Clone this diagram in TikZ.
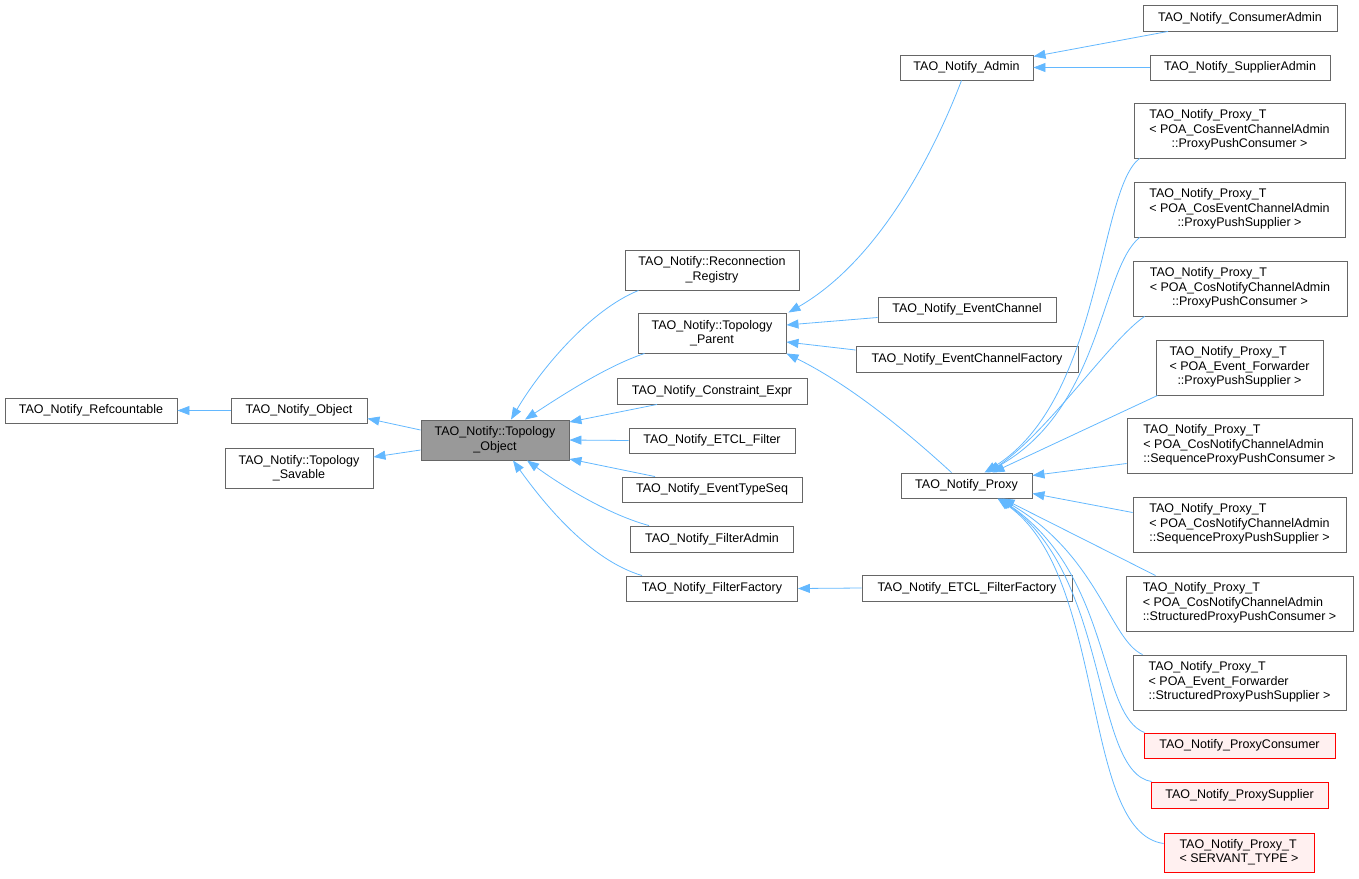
\documentclass[tikz,border=0pt]{standalone}
\usepackage{fontspec}
\setmainfont{Liberation Sans}
\usetikzlibrary{arrows.meta,calc}
\definecolor{edgeblue}{HTML}{63B8FF}
\definecolor{boxgray}{HTML}{666666}
\definecolor{tofill}{HTML}{999999}
\definecolor{redfill}{HTML}{FFF0F0}
\definecolor{redline}{HTML}{FF0000}
\newcommand\ptlab[3]{\begin{tabular}{@{}l@{}}#1\\#2\\\multicolumn{1}{@{}c@{}}{#3}\end{tabular}}
\newcommand\ptlabii[2]{\begin{tabular}{@{}l@{}}#1\\#2\end{tabular}}
\begin{document}
\begin{tikzpicture}[x=1pt,y=-1pt,
 box/.style={draw=boxgray, fill=white, line width=0.9pt, inner sep=0pt, align=center,
   font=\fontsize{12.5}{14.5}\selectfont},
 grayfill/.style={fill=tofill},
 redbox/.style={draw=redline, fill=redfill},
 edge/.style={draw=edgeblue, line width=0.8pt, -{Triangle[length=12pt,width=9pt]}}]
\useasboundingbox (0,0) rectangle (1359,878);

% left column
\node[box, minimum width=172pt, minimum height=25pt] (ref) at (91,410.5) {TAO\_Notify\_Refcountable};
\node[box, minimum width=136pt, minimum height=25pt] (obj) at (299,410.5) {TAO\_Notify\_Object};
\node[box, minimum width=148pt, minimum height=40pt] (sav) at (299,468) {TAO\_Notify::Topology\\\_Savable};
\node[box, grayfill, minimum width=148pt, minimum height=40pt] (to) at (495,440) {TAO\_Notify::Topology\\\_Object};

% middle column
\node[box, minimum width=174pt, minimum height=40pt] (rec) at (712,270) {TAO\_Notify::Reconnection\\\_Registry};
\node[box, minimum width=148pt, minimum height=40pt] (par) at (712,333) {TAO\_Notify::Topology\\\_Parent};
\node[box, minimum width=190pt, minimum height=26pt] (con) at (712,391) {TAO\_Notify\_Constraint\_Expr};
\node[box, minimum width=166pt, minimum height=25pt] (etf) at (712,440.5) {TAO\_Notify\_ETCL\_Filter};
\node[box, minimum width=180pt, minimum height=25pt] (ets) at (712,489.5) {TAO\_Notify\_EventTypeSeq};
\node[box, minimum width=163pt, minimum height=26pt] (fad) at (712,539) {TAO\_Notify\_FilterAdmin};
\node[box, minimum width=171pt, minimum height=25pt] (ffa) at (712,588.5) {TAO\_Notify\_FilterFactory};

% third column
\node[box, minimum width=133pt, minimum height=25pt] (adm) at (966.5,67.5) {TAO\_Notify\_Admin};
\node[box, minimum width=178pt, minimum height=25pt] (ech) at (967,309.5) {TAO\_Notify\_EventChannel};
\node[box, minimum width=222pt, minimum height=26pt] (ecf) at (967,359) {TAO\_Notify\_EventChannelFactory};
\node[box, minimum width=131pt, minimum height=25pt] (prx) at (966.5,485.5) {TAO\_Notify\_Proxy};
\node[box, minimum width=210pt, minimum height=26pt] (eff) at (967,588) {TAO\_Notify\_ETCL\_FilterFactory};

% right column
\node[box, minimum width=194pt, minimum height=26pt] (cad) at (1240,18) {TAO\_Notify\_ConsumerAdmin};
\node[box, minimum width=180pt, minimum height=25pt] (sad) at (1240,67.5) {TAO\_Notify\_SupplierAdmin};
\node[box, minimum width=211pt, minimum height=55pt] (p1) at (1239.5,130.5) {\ptlab{TAO\_Notify\_Proxy\_T}{< POA\_CosEventChannelAdmin}{::ProxyPushConsumer >}};
\node[box, minimum width=211pt, minimum height=55pt] (p2) at (1239.5,209.5) {\ptlab{TAO\_Notify\_Proxy\_T}{< POA\_CosEventChannelAdmin}{::ProxyPushSupplier >}};
\node[box, minimum width=214pt, minimum height=55pt] (p3) at (1240,288.5) {\ptlab{TAO\_Notify\_Proxy\_T}{< POA\_CosNotifyChannelAdmin}{::ProxyPushConsumer >}};
\node[box, minimum width=167pt, minimum height=55pt] (p4) at (1239.5,367.5) {\ptlab{TAO\_Notify\_Proxy\_T}{< POA\_Event\_Forwarder}{::ProxyPushSupplier >}};
\node[box, minimum width=225pt, minimum height=55pt] (p5) at (1239.5,445.5) {\ptlab{TAO\_Notify\_Proxy\_T}{< POA\_CosNotifyChannelAdmin}{::SequenceProxyPushConsumer >}};
\node[box, minimum width=213pt, minimum height=55pt] (p6) at (1239.5,524.5) {\ptlab{TAO\_Notify\_Proxy\_T}{< POA\_CosNotifyChannelAdmin}{::SequenceProxyPushSupplier >}};
\node[box, minimum width=227pt, minimum height=55pt] (p7) at (1239.5,603.5) {\ptlab{TAO\_Notify\_Proxy\_T}{< POA\_CosNotifyChannelAdmin}{::StructuredProxyPushConsumer >}};
\node[box, minimum width=213pt, minimum height=55pt] (p8) at (1239.5,682.5) {\ptlab{TAO\_Notify\_Proxy\_T}{< POA\_Event\_Forwarder}{::StructuredProxyPushSupplier >}};
\node[box, redbox, minimum width=191pt, minimum height=25pt] (pc) at (1239.5,745.5) {TAO\_Notify\_ProxyConsumer};
\node[box, redbox, minimum width=177pt, minimum height=26pt] (ps) at (1239.5,795) {TAO\_Notify\_ProxySupplier};
\node[box, redbox, minimum width=150pt, minimum height=39pt] (pst) at (1239,852.5) {\ptlabii{TAO\_Notify\_Proxy\_T}{< SERVANT\_TYPE >}};

% edges: child -> parent
\draw[edge] (obj.west) -- (ref.east);
\draw[edge] ($(to.west)+(0,-10)$) -- ($(obj.east)+(0,8)$);
\draw[edge] ($(to.west)+(0,10)$) -- ($(sav.east)+(0,-11)$);

\draw[edge] ($(rec.south west)+(14,0)$) .. controls (590,310) and (540,370) .. ($(to.north)+(16,0)$);
\draw[edge] ($(par.south west)+(7,0)$) .. controls (610,365) and (570,390) .. ($(to.north)+(30,0)$);
\draw[edge] ($(con.south)+(-55,0)$) -- ($(to.east)+(0,-18)$);
\draw[edge] (etf.west) -- (to.east);
\draw[edge] ($(ets.north)+(-57,0)$) -- ($(to.east)+(0,19)$);
\draw[edge] ($(fad.north)+(-63,0)$) .. controls (610,515) and (565,488) .. ($(to.south)+(32,0)$);
\draw[edge] ($(ffa.north)+(-70,0)$) .. controls (590,560) and (545,505) .. ($(to.south)+(18,0)$);

\draw[edge] ($(adm.south)+(-5,0)$) .. controls (935,150) and (880,260) .. ($(par.north east)+(2,0)$);
\draw[edge] ($(ech.west)+(0,8)$) -- ($(par.east)+(0,-8)$);
\draw[edge] ($(ecf.west)+(0,-9)$) -- ($(par.east)+(0,9)$);
\draw[edge] ($(prx.north)+(-15,0)$) .. controls (905,430) and (850,385) .. ($(par.south east)+(0,0)$);

\draw[edge] ($(cad.south)+(-72,0)$) -- ($(adm.east)+(0,-11)$);
\draw[edge] (sad.west) -- (adm.east);
\draw[edge] (eff.west) -- (ffa.east);

\draw[edge] ($(p1.south west)+(6,0)$) .. controls (1098,190) and (1102,400) .. ($(prx.north)+(18,0)$);
\draw[edge] ($(p2.south west)+(6,0)$) .. controls (1100,270) and (1102,410) .. ($(prx.north)+(20,0)$);
\draw[edge] ($(p3.south west)+(12,0)$) .. controls (1110,340) and (1050,430) .. ($(prx.north)+(22,0)$);
\draw[edge] ($(p4.south west)+(2,0)$) -- ($(prx.north)+(26,0)$);
\draw[edge] ($(p5.west)+(0,18)$) -- ($(prx.east)+(0,-10)$);
\draw[edge] ($(p6.west)+(0,-12)$) -- ($(prx.east)+(0,8)$);
\draw[edge] ($(p7.north west)+(30,0)$) -- ($(prx.south)+(36,0)$);
\draw[edge] ($(p8.north west)+(10,0)$) .. controls (1110,640) and (1098,555) .. ($(prx.south)+(34,0)$);
\draw[edge] ($(pc.north west)+(1,0)$) .. controls (1098,715) and (1112,575) .. ($(prx.south)+(33,0)$);
\draw[edge] ($(ps.north west)+(1,0)$) .. controls (1092,772) and (1110,575) .. ($(prx.south)+(32,0)$);
\draw[edge] ($(pst.west)+(0,-9)$) .. controls (1080,832) and (1108,575) .. ($(prx.south)+(31,0)$);
\end{tikzpicture}
\end{document}
